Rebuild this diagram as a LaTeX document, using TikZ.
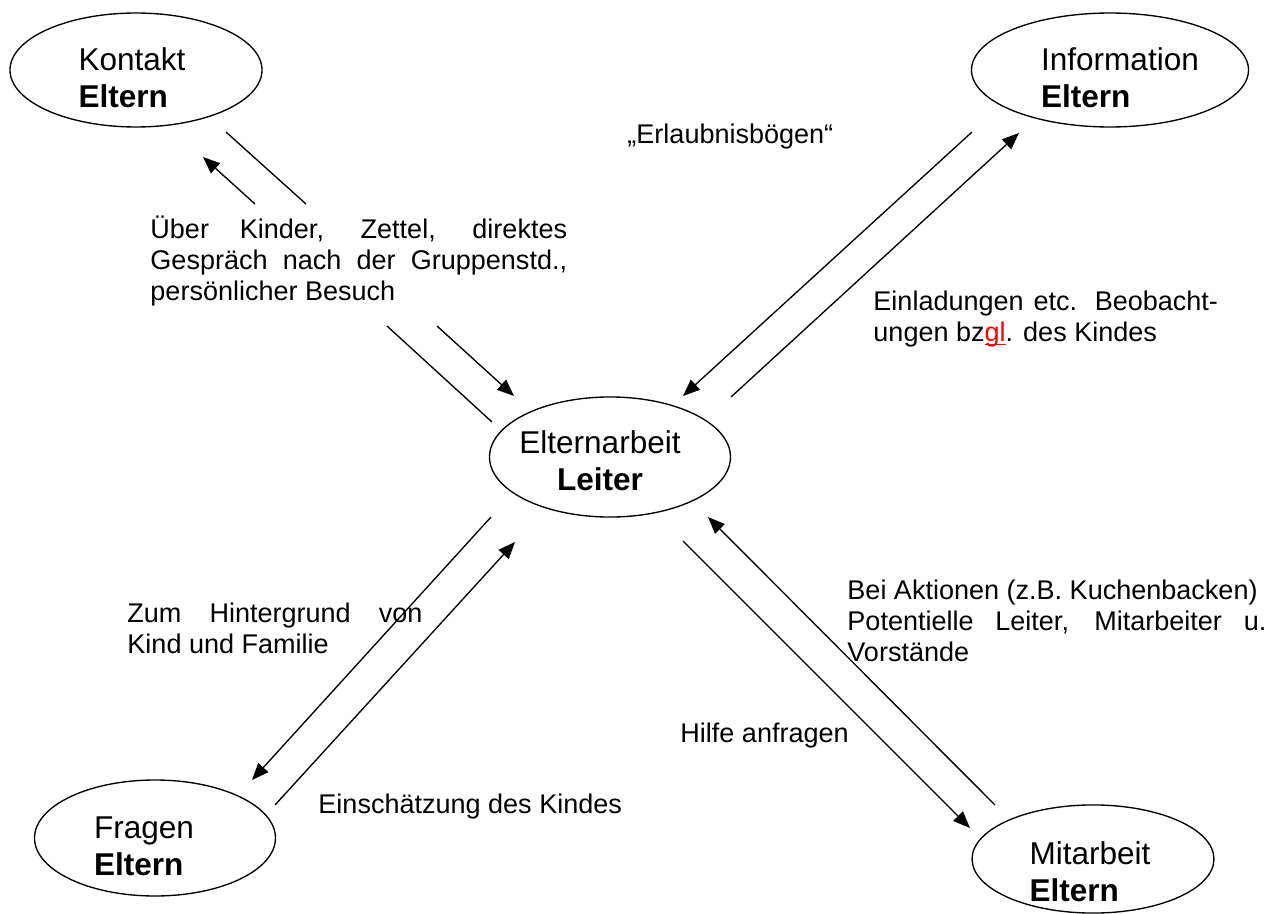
\documentclass[tikz,border=0pt]{standalone}
\usepackage{fontspec}
\setmainfont{Liberation Sans}
\usepackage{xcolor}
\usetikzlibrary{arrows.meta,shapes.geometric}
\newcommand{\redmark}[1]{\textcolor{red}{\setbox0\hbox{#1}\rlap{\rule[-1.8pt]{\wd0}{0.7pt}}#1}}
\tikzset{
  bubble/.style={ellipse,draw=black,line width=0.6pt,inner sep=0pt},
  bubbletext/.style={inner sep=0pt,font=\fontsize{14pt}{16.4pt}\selectfont},
  notetext/.style={anchor=base west,inner sep=0pt,font=\fontsize{12pt}{13.8pt}\selectfont},
  linkline/.style={line width=0.6pt,draw=black},
  linkarrow/.style={-{Triangle[length=7.5pt,width=6pt]},line width=0.6pt,draw=black}
}

\begin{document}
\begin{tikzpicture}[x=0.444pt,y=-0.444pt]
\useasboundingbox (0,0) rectangle (1275,914);

% Ellipsen
\node[bubble,minimum width=111.9pt,minimum height=50.6pt] (kontakt) at (136,70) {};
\node[bubble,minimum width=123pt,minimum height=50.6pt] (info) at (1110,70) {};
\node[bubble,minimum width=107pt,minimum height=53.3pt] (leiter) at (610,457) {};
\node[bubble,minimum width=107pt,minimum height=51.5pt] (fragen) at (155,838) {};
\node[bubble,minimum width=107.4pt,minimum height=48pt] (mitarbeit) at (1093,859) {};

\node[bubbletext,align=left] (kontakt-text) at (132,78) {Kontakt\\\textbf{Eltern}};
\node[bubbletext,align=left] (info-text) at (1120,78) {Information\\\textbf{Eltern}};
\node[bubbletext,align=center] (leiter-text) at (600,461) {Elternarbeit\\\textbf{Leiter}};
\node[bubbletext,align=left] (fragen-text) at (144,846) {Fragen\\\textbf{Eltern}};
\node[bubbletext,align=left] (mitarbeit-text) at (1090,872) {Mitarbeit\\\textbf{Eltern}};

% Beschriftungen
\node[notetext] (erlaubnis) at (627,143) {„Erlaubnisbögen“};
\node[notetext,text width=185pt,align=justify] (ueber) at (150,238) {Über Kinder, Zettel, direktes\linebreak Gespräch nach der Gruppenstd.,\linebreak persönlicher Besuch};
\node[notetext,text width=153pt,align=justify] (einladung) at (873,310) {Einladungen etc. Beobacht-\linebreak ungen bz\redmark{gl}. des Kindes};
\node[notetext,text width=131pt,align=justify] (hintergrund) at (127,622) {Zum Hintergrund von\linebreak Kind und Familie};
\node[notetext] (einschaetzung) at (318,813) {Einschätzung des Kindes};
\node[notetext,text width=186pt,align=justify] (aktionen) at (847,599) {Bei Aktionen (z.B. Kuchenbacken)\par Potentielle Leiter, Mitarbeiter u.\linebreak Vorstände};
\node[notetext] (hilfe) at (680,742) {Hilfe anfragen};

% Endpunkte der Pfeile
\coordinate (k1) at (255,204); \coordinate (k2) at (203,157);
\coordinate (k3) at (306,204); \coordinate (k4) at (226,132);
\coordinate (k5) at (387,326); \coordinate (k6) at (492,422);
\coordinate (k7) at (437,326); \coordinate (k8) at (514,396);
\coordinate (i1) at (972,132); \coordinate (i2) at (683,396);
\coordinate (i3) at (731,397); \coordinate (i4) at (1019,133);
\coordinate (f1) at (491,517); \coordinate (f2) at (252,780);
\coordinate (f3) at (275,805); \coordinate (f4) at (515,542);
\coordinate (m1) at (995,805); \coordinate (m2) at (708,517);
\coordinate (m3) at (683,541); \coordinate (m4) at (970,828);

\draw[linkarrow] (k1)--(k2);
\draw[linkline] (k3)--(k4);
\draw[linkline] (k5)--(k6);
\draw[linkarrow] (k7)--(k8);
\draw[linkarrow] (i1)--(i2);
\draw[linkarrow] (i3)--(i4);
\draw[linkarrow] (f1)--(f2);
\draw[linkarrow] (f3)--(f4);
\draw[linkarrow] (m1)--(m2);
\draw[linkarrow] (m3)--(m4);
\end{tikzpicture}
\end{document}
